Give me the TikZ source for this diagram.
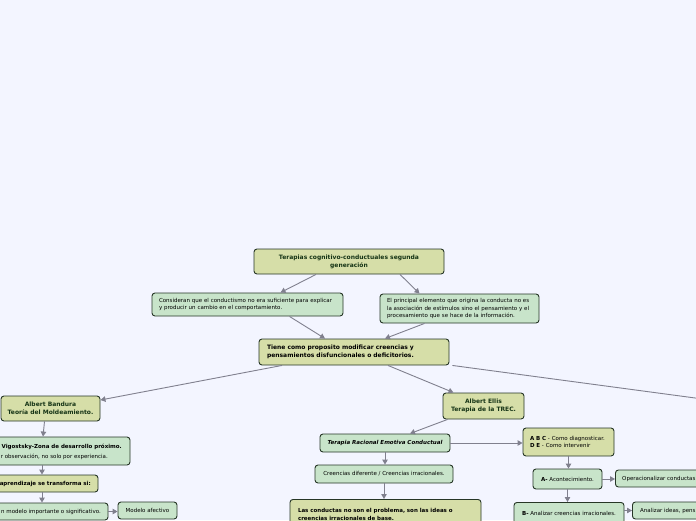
\documentclass[tikz,border=0pt]{standalone}
\usepackage{fontspec}
\setmainfont{DejaVu Sans}
\usetikzlibrary{arrows.meta}
\definecolor{bgc}{RGB}{243,245,255}
\definecolor{olivef}{RGB}{214,222,168}
\definecolor{greenf}{RGB}{200,228,202}
\definecolor{bordc}{RGB}{38,54,38}
\definecolor{linec}{RGB}{128,128,142}
\definecolor{titc}{RGB}{22,52,22}
\newcommand{\bigb}{\fontsize{6}{8}\selectfont\bfseries}
\newcommand{\smb}{\fontsize{5.5}{7.2}\selectfont\bfseries}
\newcommand{\smr}{\fontsize{5.5}{7.4}\selectfont}
\begin{document}
\begin{tikzpicture}[x=1pt,y=-1pt,
  box/.style={draw=bordc, line width=0.9pt, rounded corners=3pt, inner sep=0pt},
  olivebox/.style={box, fill=olivef},
  greenbox/.style={box, fill=greenf},
  plain/.style={inner sep=0pt},
  conn/.style={draw=linec, line width=0.9pt, -{Triangle[length=5pt,width=5.5pt]}},
  connline/.style={draw=linec, line width=0.9pt}]
\fill[bgc] (0,0) rectangle (696,520);
\useasboundingbox (0,0) rectangle (696,520);

% top level
\node[olivebox, minimum width=190pt, minimum height=25pt, align=center, text=titc, font=\bigb] (top) at (349,261.5)
  {Terapias cognitivo-conductuales segunda\\generación};
\node[greenbox, minimum width=191pt, minimum height=23pt, align=left, text width=177pt, font=\smr] (cons) at (247.5,304.5)
  {Consideran que el conductismo no era suficiente para explicar\\y producir un cambio en el comportamiento.};
\node[greenbox, minimum width=159pt, minimum height=29pt, align=left, text width=145pt, font=\smr] (elp) at (459.5,308.5)
  {El principal elemento que origina la conducta no es\\la asociación de estímulos sino el pensamiento y el\\procesamiento que se hace de la información.};
\node[olivebox, minimum width=190pt, minimum height=26pt, align=left, text width=174pt, font=\bigb] (tiene) at (354,352)
  {Tiene como proposito modificar creencias y\\pensamientos disfuncionales o deficitorios.};

% Bandura branch
\node[olivebox, minimum width=99pt, minimum height=25pt, align=center, text=titc, font=\bigb] (band) at (50.5,408.5)
  {Albert Bandura\\Teoría del Moldeamiento.};
\node[greenbox, minimum width=190pt, minimum height=28pt] (vig) at (35,451) {};
\node[plain, anchor=east, font=\smb] (vigt1) at (122,447) {Vigostsky-Zona de desarrollo próximo.};
\node[plain, anchor=east, font=\smr] (vigt2) at (108,456.5) {r observación, no solo por experiencia.};
\node[olivebox, minimum width=158pt, minimum height=17pt] (apr) at (19,483.5) {};
\node[plain, anchor=east, font=\smb] (aprt) at (91,483.8) {aprendizaje se transforma si:};
\node[greenbox, minimum width=168pt, minimum height=17pt] (modelo) at (24,511.5) {};
\node[plain, anchor=east, font=\smr] (modelot) at (101,511.5) {n modelo importante o significativo.};
\node[greenbox, minimum width=59pt, minimum height=17pt, font=\smr] (mafect) at (147.5,510.5) {Modelo afectivo};

% Ellis branch
\node[olivebox, minimum width=81pt, minimum height=26pt, align=center, text=titc, font=\bigb] (ellis) at (483.5,406)
  {Albert Ellis\\Terapia de la TREC.};
\node[greenbox, minimum width=130pt, minimum height=18pt, font=\smb\itshape] (trec) at (385,443)
  {Terapia Racional Emotiva Conductual};
\node[greenbox, minimum width=138pt, minimum height=18pt, font=\smr] (creen) at (384,474)
  {Creencias diferente / Creencias irracionales.};
\node[olivebox, anchor=north, minimum width=191pt, minimum height=30pt, align=left, text width=175pt, inner ysep=5pt, font=\smb] (lasc) at (385.5,499)
  {Las conductas no son el problema, son las ideas o\\creencias irracionales de base.};
\node[olivebox, minimum width=91pt, minimum height=28pt, align=left, text width=77pt, font=\smr] (abc) at (568.5,442)
  {\textbf{A B C} - Como diagnosticar.\\\textbf{D E} - Como intervenir};
\node[greenbox, minimum width=69pt, minimum height=20pt, font=\smr] (aacon) at (567.5,479)
  {\textbf{A-} Acontecimiento.};
\node[greenbox, anchor=west, minimum width=110pt, minimum height=17pt] (oper) at (615,478.5) {};
\node[plain, anchor=west, font=\smr] (opert) at (622,478.5) {Operacionalizar conductas};
\node[greenbox, anchor=north, minimum width=110pt, minimum height=22pt, font=\smr] (bnode) at (569,502)
  {\textbf{B-} Analizar creencias irracionales.};
\node[greenbox, anchor=west, minimum width=100pt, minimum height=17pt] (anal) at (632,510.5) {};
\node[plain, anchor=west, font=\smr] (analt) at (640,510.5) {Analizar ideas, pens};

\coordinate (offR) at (740,404);

% connectors
\draw[conn] ([xshift=-33pt]top.south) -- ([xshift=33pt]cons.north);
\draw[conn] ([xshift=51pt]top.south) -- ([xshift=-40pt]elp.north);
\draw[conn] ([xshift=42pt]cons.south) -- ([xshift=-29pt]tiene.north);
\draw[conn] ([xshift=-35pt]elp.south) -- ([xshift=31pt]tiene.north);
\draw[conn] ([xshift=-72pt]tiene.south) -- ([yshift=8.5pt]band.east);
\draw[conn] ([xshift=34pt]tiene.south) -- ([xshift=-30pt]ellis.north);
\draw[connline] ([xshift=3pt]tiene.south east) -- (offR);
\draw[conn] ([xshift=-6pt]band.south) -- ([xshift=8pt]vig.north);
\draw[conn] ([xshift=7pt]vig.south) -- ([xshift=23pt]apr.north);
\draw[conn] ([xshift=23pt]apr.south) -- ([xshift=18pt]modelo.north);
\draw[conn] (modelo.east) -- (modelo.east -| mafect.west);
\draw[conn] ([xshift=-36pt]ellis.south) -- ([xshift=25pt]trec.north);
\draw[conn] (trec.east) -- (trec.east -| abc.west);
\draw[conn] (trec.south) -- (trec.south |- creen.north);
\draw[conn] (creen.south) -- (creen.south |- lasc.north);
\draw[conn] (abc.south) -- (abc.south |- aacon.north);
\draw[conn] (aacon.east) -- (aacon.east -| oper.west);
\draw[conn] (aacon.south) -- (aacon.south |- bnode.north);
\draw[conn] (bnode.east |- anal.west) -- (anal.west);
\end{tikzpicture}
\end{document}
